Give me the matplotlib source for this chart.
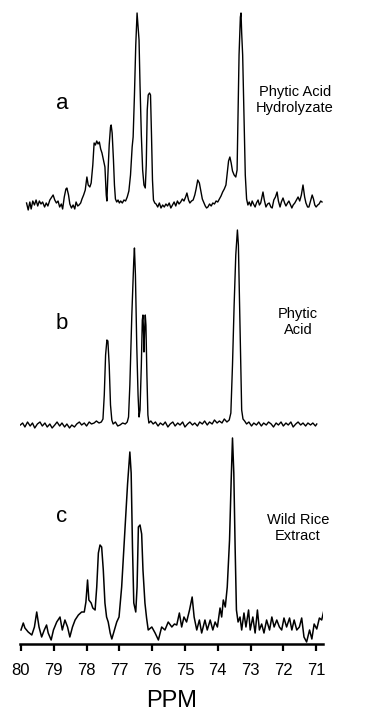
import matplotlib
matplotlib.use('Agg')
import matplotlib.pyplot as plt
import numpy as np

plt.rcParams['font.family'] = ['Liberation Sans', 'DejaVu Sans']

# spectrum a: phytic acid hydrolyzate (ppm, height above baseline)
a_ppm = [79.83, 79.78, 79.73, 79.69, 79.64, 79.59, 79.54, 79.49, 79.44, 79.39, 79.34, 79.28,
         79.23, 79.18, 79.12, 79.06, 79.02, 78.97, 78.92, 78.87, 78.82, 78.77, 78.73, 78.68,
         78.63, 78.60, 78.55, 78.51, 78.46, 78.41, 78.36, 78.32, 78.27, 78.23, 78.18, 78.14,
         78.09, 78.04, 77.99, 77.95, 77.90, 77.86, 77.81, 77.77, 77.73, 77.69, 77.65, 77.61,
         77.57, 77.53, 77.48, 77.44, 77.40, 77.38, 77.35, 77.31, 77.27, 77.25, 77.22, 77.18,
         77.15, 77.12, 77.08, 77.04, 77.00, 76.96, 76.91, 76.86, 76.81, 76.76, 76.71, 76.66,
         76.61, 76.58, 76.54, 76.50, 76.46, 76.43, 76.40, 76.37, 76.33, 76.29, 76.25, 76.21,
         76.18, 76.15, 76.12, 76.08, 76.05, 76.02, 75.99, 75.96, 75.92, 75.88, 75.83, 75.78,
         75.73, 75.68, 75.63, 75.58, 75.53, 75.48, 75.43, 75.38, 75.33, 75.28, 75.23, 75.18,
         75.13, 75.08, 75.03, 74.98, 74.94, 74.89, 74.85, 74.80, 74.75, 74.70, 74.66, 74.61,
         74.56, 74.52, 74.47, 74.42, 74.38, 74.34, 74.30, 74.25, 74.20, 74.15, 74.10, 74.05,
         74.00, 73.95, 73.90, 73.85, 73.80, 73.75, 73.71, 73.67, 73.63, 73.59, 73.55, 73.50,
         73.45, 73.41, 73.38, 73.35, 73.31, 73.29, 73.27, 73.24, 73.20, 73.16, 73.12, 73.08,
         73.04, 72.99, 72.95, 72.91, 72.86, 72.82, 72.77, 72.73, 72.69, 72.65, 72.62, 72.58,
         72.53, 72.48, 72.43, 72.38, 72.34, 72.29, 72.24, 72.19, 72.15, 72.10, 72.06, 72.01,
         71.96, 71.92, 71.87, 71.83, 71.78, 71.74, 71.70, 71.65, 71.60, 71.55, 71.50, 71.45,
         71.40, 71.35, 71.31, 71.26, 71.22, 71.17, 71.12, 71.08, 71.04, 71.00, 70.95, 70.91,
         70.86, 70.82]
a_int = [2, -5, 3, -4, 4, 0, 5, -1, 4, 1, 3, -2,
         2, -1, 5, 8, 10, 5, 2, 4, -2, 1, -4, 8,
         16, 17, 10, 1, -3, 0, -4, 3, -1, 0, 2, 6,
         10, 15, 28, 20, 18, 22, 40, 62, 60, 64, 61, 63,
         56, 52, 44, 38, 10, 4, 30, 60, 78, 80, 72, 45,
         20, 6, 3, 5, 2, 4, 2, 5, 4, 8, 14, 30,
         58, 68, 110, 160, 192, 178, 165, 120, 70, 35, 20, 17,
         40, 95, 110, 112, 110, 70, 25, 5, 2, 1, -2, 2,
         -3, 0, -2, 1, -1, 2, -3, 0, 3, -1, 4, 1,
         3, 6, 4, 8, 12, 5, 2, 4, 5, 10, 16, 25,
         22, 15, 6, 2, -1, -3, -2, 1, -1, 2, 1, 4,
         3, 6, 9, 13, 16, 20, 32, 44, 48, 42, 34, 30,
         28, 35, 90, 150, 188, 192, 172, 150, 90, 30, 6, 0,
         3, -1, 4, 1, -2, 2, 5, 0, 2, 8, 13, 5,
         -2, 1, 2, -2, -3, 5, 8, 13, 4, -2, 3, 7,
         2, -1, 2, 4, 0, -3, 0, 2, 5, 8, 4, 10,
         20, 8, 2, -2, -2, 4, 10, 6, 0, -2, 0, 1,
         4, 3]

# spectrum b: phytic acid
b_ppm = [80.02, 79.95, 79.88, 79.80, 79.72, 79.65, 79.58, 79.50, 79.42, 79.35, 79.27, 79.20,
         79.12, 79.05, 78.97, 78.90, 78.82, 78.75, 78.67, 78.60, 78.52, 78.45, 78.37, 78.30,
         78.22, 78.15, 78.07, 78.00, 77.92, 77.85, 77.77, 77.70, 77.62, 77.55, 77.50, 77.46,
         77.42, 77.38, 77.35, 77.31, 77.27, 77.23, 77.19, 77.12, 77.05, 76.98, 76.90, 76.82,
         76.76, 76.72, 76.68, 76.62, 76.56, 76.54, 76.51, 76.47, 76.43, 76.40, 76.37, 76.33,
         76.30, 76.28, 76.26, 76.25, 76.23, 76.21, 76.19, 76.16, 76.13, 76.10, 76.04, 75.97,
         75.90, 75.82, 75.75, 75.67, 75.60, 75.52, 75.45, 75.37, 75.30, 75.22, 75.15, 75.07,
         75.00, 74.92, 74.85, 74.77, 74.70, 74.62, 74.55, 74.47, 74.40, 74.32, 74.25, 74.17,
         74.10, 74.02, 73.95, 73.87, 73.80, 73.72, 73.65, 73.60, 73.55, 73.50, 73.45, 73.40,
         73.37, 73.34, 73.30, 73.27, 73.23, 73.18, 73.12, 73.05, 72.97, 72.90, 72.82, 72.75,
         72.67, 72.60, 72.52, 72.45, 72.37, 72.30, 72.22, 72.15, 72.07, 72.00, 71.92, 71.85,
         71.77, 71.70, 71.62, 71.55, 71.47, 71.40, 71.32, 71.25, 71.17, 71.10, 71.02, 70.98]
b_int = [0, 2, -2, 3, -1, 2, -3, 1, 3, -1, 2, -2,
         1, -3, 0, 3, -1, 2, -2, 1, -3, 0, -2, 1,
         3, 0, 2, -1, 3, 1, 2, 4, 2, 3, 6, 30,
         70, 85, 84, 60, 20, 5, 1, 3, -1, 0, 2, 1,
         3, 8, 40, 110, 165, 177, 150, 80, 30, 8, 15, 60,
         105, 110, 90, 73, 95, 110, 100, 50, 10, 2, 4, 1,
         3, -1, 2, 0, 3, -2, 1, 3, -1, 2, 0, 3,
         -2, 1, 3, 0, 2, -1, 3, 1, 4, 0, 3, 1,
         5, 2, 4, 2, 6, 3, 5, 12, 60, 120, 170, 195,
         180, 130, 60, 15, 6, 4, 1, 3, -1, 2, 0, 3,
         -1, 2, 0, 3, 1, -2, 2, 0, 3, -1, 2, 0,
         3, -2, 1, 3, 0, 2, -1, 2, 0, 2, -1, 1]

# spectrum c: wild rice extract
c_ppm = [80.00, 79.93, 79.88, 79.78, 79.67, 79.59, 79.52, 79.45, 79.37, 79.29, 79.22, 79.17,
         79.08, 79.01, 78.91, 78.81, 78.74, 78.66, 78.58, 78.51, 78.43, 78.35, 78.25, 78.15,
         78.07, 78.02, 77.97, 77.93, 77.86, 77.81, 77.74, 77.69, 77.64, 77.59, 77.54, 77.49,
         77.44, 77.39, 77.34, 77.28, 77.23, 77.15, 77.08, 77.01, 76.93, 76.83, 76.75, 76.68,
         76.64, 76.60, 76.56, 76.50, 76.46, 76.42, 76.37, 76.32, 76.28, 76.22, 76.17, 76.12,
         76.01, 75.91, 75.81, 75.71, 75.61, 75.51, 75.40, 75.32, 75.25, 75.17, 75.10, 75.03,
         74.95, 74.86, 74.78, 74.72, 74.64, 74.56, 74.49, 74.39, 74.32, 74.23, 74.15, 74.08,
         74.01, 73.93, 73.88, 73.83, 73.77, 73.71, 73.64, 73.59, 73.55, 73.51, 73.47, 73.43,
         73.38, 73.32, 73.27, 73.20, 73.14, 73.06, 73.01, 72.93, 72.86, 72.79, 72.73, 72.66,
         72.59, 72.51, 72.42, 72.35, 72.28, 72.20, 72.12, 72.05, 71.98, 71.90, 71.81, 71.74,
         71.67, 71.59, 71.51, 71.44, 71.37, 71.29, 71.20, 71.13, 71.06, 70.98, 70.90, 70.83,
         70.76]
c_int = [2, 9, 4, 0, -3, 5, 20, 5, -5, 2, 7, -1,
         -8, 2, 10, 15, 2, 12, 5, -5, 5, 12, 17, 20,
         20, 30, 52, 32, 29, 24, 22, 45, 79, 87, 85, 62,
         29, 15, 10, -1, -7, 2, 10, 15, 45, 102, 148, 180,
         159, 85, 29, 20, 45, 105, 107, 98, 62, 29, 14, 2,
         5, -1, -8, 5, 2, 10, 5, 8, 7, 19, 5, 15,
         10, 22, 35, 15, 2, 12, -1, 12, 2, 12, 2, 10,
         5, 24, 15, 32, 25, 45, 92, 152, 194, 159, 85, 22,
         10, 15, 2, 19, 5, 22, 2, 15, -1, 22, 2, 8,
         -1, 12, 2, 15, 5, 12, 5, 2, 14, 5, 14, 2,
         12, 2, 5, 14, -5, -10, 2, -7, 8, 3, 14, 12,
         22]

ticks = [80, 79, 78, 77, 76, 75, 74, 73, 72, 71]

fig = plt.figure(figsize=(3.69, 7.11), dpi=100)
ax = fig.add_axes([20 / 369, 67 / 711, 303 / 369, 644 / 711])

ax.plot(a_ppm, np.array(a_int) + 439, color='black', lw=1.0)
ax.plot(b_ppm, np.array(b_int) + 219, color='black', lw=1.0)
ax.plot(c_ppm, np.array(c_int) + 12, color='black', lw=1.1)

ax.set_xlim(80.03, 70.79)
ax.set_ylim(0, 644)
ax.set_xticks(ticks)
ax.set_xticklabels([str(t) for t in ticks], fontsize=12)
ax.tick_params(axis='x', direction='out', length=5, width=1.6, pad=9)
ax.set_yticks([])
for s in ['top', 'left', 'right']:
    ax.spines[s].set_visible(False)
ax.spines['bottom'].set_linewidth(1.8)
ax.set_xlabel('PPM', fontsize=17, labelpad=8)

ax.text(78.75, 541, 'a', fontsize=16, ha='center', va='center')
ax.text(78.75, 321, 'b', fontsize=16, ha='center', va='center')
ax.text(78.75, 127, 'c', fontsize=16, ha='center', va='center')
ax.text(71.65, 544, 'Phytic Acid\nHydrolyzate', fontsize=10.5, ha='center', va='center',
        linespacing=1.15)
ax.text(71.55, 322, 'Phytic\nAcid', fontsize=10.5, ha='center', va='center', linespacing=1.15)
ax.text(71.55, 116, 'Wild Rice\nExtract', fontsize=10.5, ha='center', va='center',
        linespacing=1.15)

fig.savefig('out.png', dpi=100)
